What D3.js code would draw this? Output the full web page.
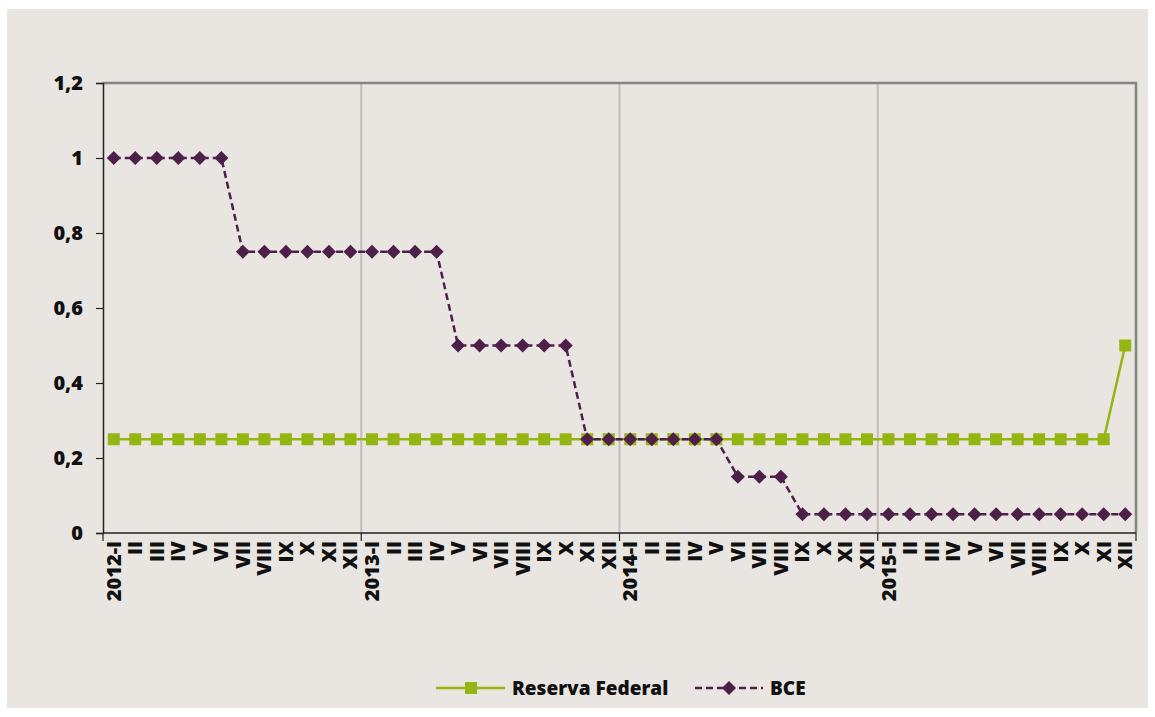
<!DOCTYPE html>
<html>
<head>
<meta charset="utf-8">
<script src="https://cdn.jsdelivr.net/npm/d3@7"></script>
<style>
  body { margin: 0; background: #fff; }
  text { font-family: "Open Sans", sans-serif; font-weight: bold; fill: #111; }
</style>
</head>
<body>
<svg id="chart" width="1155" height="717"></svg>
<script>
// months in roman numerals, the first of each year carries the year
var months = ["I","II","III","IV","V","VI","VII","VIII","IX","X","XI","XII"];
var years = ["2012","2013","2014","2015"];
var categories = [];
years.forEach(y => months.forEach((m, i) => categories.push(i === 0 ? y + "-I" : m)));

var fedValues = [
  0.25,0.25,0.25,0.25,0.25,0.25,0.25,0.25,0.25,0.25,0.25,0.25,
  0.25,0.25,0.25,0.25,0.25,0.25,0.25,0.25,0.25,0.25,0.25,0.25,
  0.25,0.25,0.25,0.25,0.25,0.25,0.25,0.25,0.25,0.25,0.25,0.25,
  0.25,0.25,0.25,0.25,0.25,0.25,0.25,0.25,0.25,0.25,0.25,0.5
];
var bceValues = [
  1,1,1,1,1,1,0.75,0.75,0.75,0.75,0.75,0.75,
  0.75,0.75,0.75,0.75,0.5,0.5,0.5,0.5,0.5,0.5,0.25,0.25,
  0.25,0.25,0.25,0.25,0.25,0.15,0.15,0.15,0.05,0.05,0.05,0.05,
  0.05,0.05,0.05,0.05,0.05,0.05,0.05,0.05,0.05,0.05,0.05,0.05
];
var yTicks = [0, 0.2, 0.4, 0.6, 0.8, 1, 1.2];
var seriesNames = ["Reserva Federal", "BCE"];

var svg = d3.select("#chart");
var bg = "#e9e6e1", green = "#95b512", purple = "#4e2049";

svg.append("rect").attr("x", 7).attr("y", 9).attr("width", 1141).attr("height", 699).attr("fill", bg);

var pLeft = 103, pRight = 1136, pTop = 83, pBottom = 533;

var x = d3.scaleBand().domain(d3.range(categories.length)).range([pLeft, pRight]);
var y = d3.scaleLinear().domain([0, 1.2]).range([pBottom, pTop]);
var fmt = d => d3.format(".1~f")(d).replace(".", ",");

// year gridlines at category boundaries
var yearStarts = [12, 24, 36];
svg.selectAll(".grid").data(yearStarts).enter().append("line")
  .attr("x1", d => x(d)).attr("x2", d => x(d))
  .attr("y1", pTop).attr("y2", pBottom)
  .attr("stroke", "#c0bdb9").attr("stroke-width", 2);

// top and right frame
svg.append("path")
  .attr("d", "M" + pLeft + "," + pTop + "H" + pRight + "V" + pBottom)
  .attr("fill", "none").attr("stroke", "#858585").attr("stroke-width", 2.5);

// y axis
var yAxis = svg.append("g").attr("transform", "translate(" + pLeft + ",0)")
  .call(d3.axisLeft(y).tickValues(yTicks).tickFormat(fmt).tickSize(7).tickPadding(13));
yAxis.select(".domain").attr("stroke", "#222").attr("stroke-width", 1.5);
yAxis.selectAll(".tick line").attr("stroke", "#222").attr("stroke-width", 1.2);
yAxis.selectAll("text").style("font-size", "20px").style("font-weight", "800").attr("fill", "#111");

// x axis: ticks every 12 months at boundaries
var xAxisG = svg.append("g").attr("transform", "translate(0," + pBottom + ")");
xAxisG.append("line").attr("x1", pLeft).attr("x2", pRight).attr("stroke", "#222").attr("stroke-width", 1.5);
xAxisG.selectAll(".xt").data([0, 12, 24, 36, 48]).enter().append("line")
  .attr("x1", d => d === 48 ? pRight : x(d)).attr("x2", d => d === 48 ? pRight : x(d))
  .attr("y1", 0).attr("y2", 8).attr("stroke", "#222").attr("stroke-width", 1.2);
xAxisG.selectAll(".xl").data(categories).enter().append("text")
  .attr("transform", (d, i) => "translate(" + (x(i) + x.bandwidth() / 2 + 7) + ",8) rotate(-90)")
  .attr("text-anchor", "end")
  .style("font-size", "20px").style("font-weight", "800")
  .text(d => d);

var cx = i => x(i) + x.bandwidth() / 2;

// Fed line + squares
svg.append("path").datum(fedValues)
  .attr("d", d3.line().x((d, i) => cx(i)).y(d => y(d)))
  .attr("fill", "none").attr("stroke", green).attr("stroke-width", 2.5);
svg.selectAll(".sq").data(fedValues).enter().append("rect")
  .attr("x", (d, i) => cx(i) - 6).attr("y", d => y(d) - 6)
  .attr("width", 12).attr("height", 12).attr("fill", green);

// BCE dashed line + diamonds
svg.append("path").datum(bceValues)
  .attr("d", d3.line().x((d, i) => cx(i)).y(d => y(d)))
  .attr("fill", "none").attr("stroke", purple).attr("stroke-width", 2.5)
  .attr("stroke-dasharray", "7,4");
var diamond = d3.symbol().type(d3.symbolDiamond2).size(125);
svg.selectAll(".dm").data(bceValues).enter().append("path")
  .attr("transform", (d, i) => "translate(" + cx(i) + "," + y(d) + ")")
  .attr("d", diamond).attr("fill", purple);

// legend
var ly = 688;
var lg = svg.append("g");
lg.append("line").attr("x1", 436).attr("x2", 505).attr("y1", ly).attr("y2", ly)
  .attr("stroke", green).attr("stroke-width", 2.5);
lg.append("rect").attr("x", 465).attr("y", ly - 6).attr("width", 12).attr("height", 12).attr("fill", green);
lg.append("text").attr("x", 512).attr("y", ly + 7).style("font-size", "19px").style("font-weight", "800").text(seriesNames[0]);
lg.append("line").attr("x1", 695).attr("x2", 763).attr("y1", ly).attr("y2", ly)
  .attr("stroke", purple).attr("stroke-width", 2.5).attr("stroke-dasharray", "7,4");
lg.append("path").attr("transform", "translate(729," + ly + ")").attr("d", diamond).attr("fill", purple);
lg.append("text").attr("x", 770).attr("y", ly + 7).style("font-size", "19px").style("font-weight", "800").text(seriesNames[1]);
</script>
</body>
</html>
